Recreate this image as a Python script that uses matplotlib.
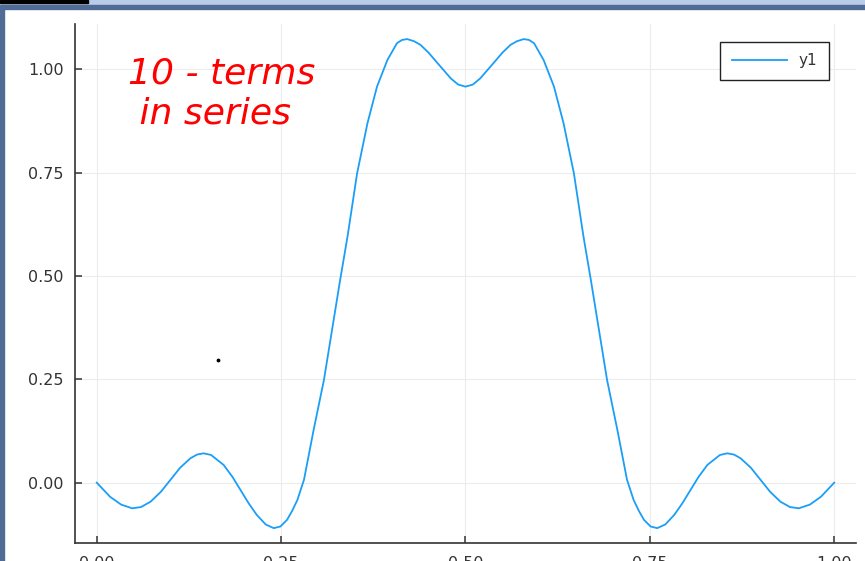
import numpy as np
import matplotlib.pyplot as plt
from matplotlib.patches import Rectangle

# partial sum of the pulse series (10 terms)
x = [0.000, 0.018, 0.033, 0.048, 0.060, 0.073, 0.087, 0.100, 0.113, 0.127, 0.136,
     0.145, 0.155, 0.172, 0.184, 0.195, 0.206, 0.217, 0.229, 0.240, 0.249,
     0.258, 0.265, 0.272, 0.281, 0.294, 0.308, 0.319, 0.330, 0.340, 0.353,
     0.367, 0.380, 0.394, 0.407, 0.414, 0.421, 0.430, 0.439, 0.450, 0.462,
     0.480, 0.490, 0.500,
     0.510, 0.520, 0.538, 0.550, 0.561, 0.570, 0.579, 0.586, 0.593, 0.606,
     0.620, 0.633, 0.647, 0.660, 0.670, 0.681, 0.692, 0.706, 0.719, 0.728,
     0.735, 0.742, 0.751, 0.760, 0.771, 0.783, 0.794, 0.805, 0.816, 0.828,
     0.845, 0.855, 0.864, 0.873, 0.887, 0.900, 0.913, 0.927, 0.940, 0.952,
     0.967, 0.982, 1.000]
y = [0.000, -0.034, -0.053, -0.062, -0.059, -0.046, -0.022, 0.007, 0.036, 0.059, 0.068,
     0.071, 0.067, 0.043, 0.014, -0.018, -0.050, -0.078, -0.101, -0.110, -0.106,
     -0.090, -0.068, -0.042, 0.007, 0.127, 0.248, 0.369, 0.490, 0.595, 0.748,
     0.869, 0.958, 1.022, 1.063, 1.071, 1.073, 1.068, 1.059, 1.040, 1.015,
     0.978, 0.963, 0.958,
     0.963, 0.978, 1.015, 1.040, 1.059, 1.068, 1.073, 1.071, 1.063, 1.022,
     0.958, 0.869, 0.748, 0.595, 0.490, 0.369, 0.248, 0.127, 0.007, -0.042,
     -0.068, -0.090, -0.106, -0.110, -0.101, -0.078, -0.050, -0.018, 0.014, 0.043,
     0.067, 0.071, 0.068, 0.059, 0.036, 0.007, -0.022, -0.046, -0.059, -0.062,
     -0.053, -0.034, 0.000]

xticks = [0.00, 0.25, 0.50, 0.75, 1.00]
yticks = [0.00, 0.25, 0.50, 0.75, 1.00]
note = "10 - terms\n in series"
stray_x = [0.165]
stray_y = [0.297]

fig = plt.figure(figsize=(8.65, 5.61), dpi=100)
ax = fig.add_axes([0.0867, 0.0316, 0.9029, 0.9257])

ax.plot(x, y, color='#1a9ef8', linewidth=1.3, label='y1')
ax.scatter(stray_x, stray_y, s=3, color='black', zorder=3)

ax.set_xlim(-0.0295, 1.0295)
ax.set_ylim(-0.1466, 1.1096)
ax.set_xticks(xticks)
ax.set_yticks(yticks)
ax.set_xticklabels(['%.2f' % t for t in xticks])
ax.set_yticklabels(['%.2f' % t for t in yticks])
ax.tick_params(direction='in', length=5, width=1.1, color='#333333',
               labelsize=11.5, labelcolor='#333333', pad=8)
ax.tick_params(axis='x', pad=9)
ax.grid(True, color='#ececec', linewidth=0.8)
ax.set_axisbelow(True)
for s in ['top', 'right']:
    ax.spines[s].set_visible(False)
for s in ['left', 'bottom']:
    ax.spines[s].set_color('#333333')
    ax.spines[s].set_linewidth(1.2)

leg = ax.legend(loc='upper right', fontsize=11, fancybox=False, framealpha=1,
                handlelength=3.6, borderpad=0.75, borderaxespad=0,
                bbox_to_anchor=(0.9654, 0.9653))
leg.get_frame().set_edgecolor('#222222')
leg.get_frame().set_linewidth(1.0)
for t in leg.get_texts():
    t.set_color('#333333')

# handwritten note
fig.text(128 / 865, 1 - 56 / 561, note, color='#ff0000', fontsize=26,
         va='top', ha='left', fontstyle='italic', linespacing=1.25)

# window border of the screenshot
fig.patches.append(Rectangle((0, 0), 4 / 865, 1, transform=fig.transFigure,
                             color='#506b95', zorder=10))
fig.patches.append(Rectangle((0, 1 - 5 / 561), 1, 5 / 561, transform=fig.transFigure,
                             color='#b9cde8', zorder=10))
fig.patches.append(Rectangle((0, 1 - 9 / 561), 1, 4 / 561, transform=fig.transFigure,
                             color='#506b95', zorder=10))
fig.patches.append(Rectangle((0, 1 - 3 / 561), 88 / 865, 3 / 561, transform=fig.transFigure,
                             color='black', zorder=11))

plt.savefig('out.png', dpi=100)
